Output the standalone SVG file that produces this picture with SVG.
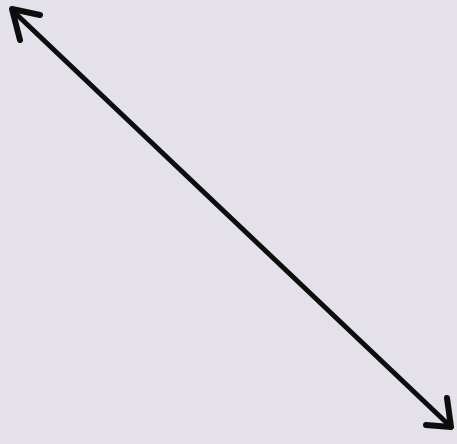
<svg xmlns="http://www.w3.org/2000/svg" width="457" height="444" viewBox="0 0 457 444">
<style>.ln{stroke:#0d0d0d;fill:none;stroke-linecap:round;stroke-linejoin:round}.shaft{stroke-width:5}.head{stroke-width:6}</style>
<defs><filter id="soft" x="-5%" y="-5%" width="110%" height="110%"><feGaussianBlur stdDeviation="0.6"/></filter></defs>
<rect width="457" height="444" fill="#e5e1eb"/>
<g id="connectors" filter="url(#soft)">
<line class="ln shaft" x1="13" y1="11" x2="450" y2="426"/>
<polyline class="ln head" points="40,15 12,9 20,40"/>
<polyline class="ln head" points="447,398 451,427 426,425"/>
</g>
</svg>
